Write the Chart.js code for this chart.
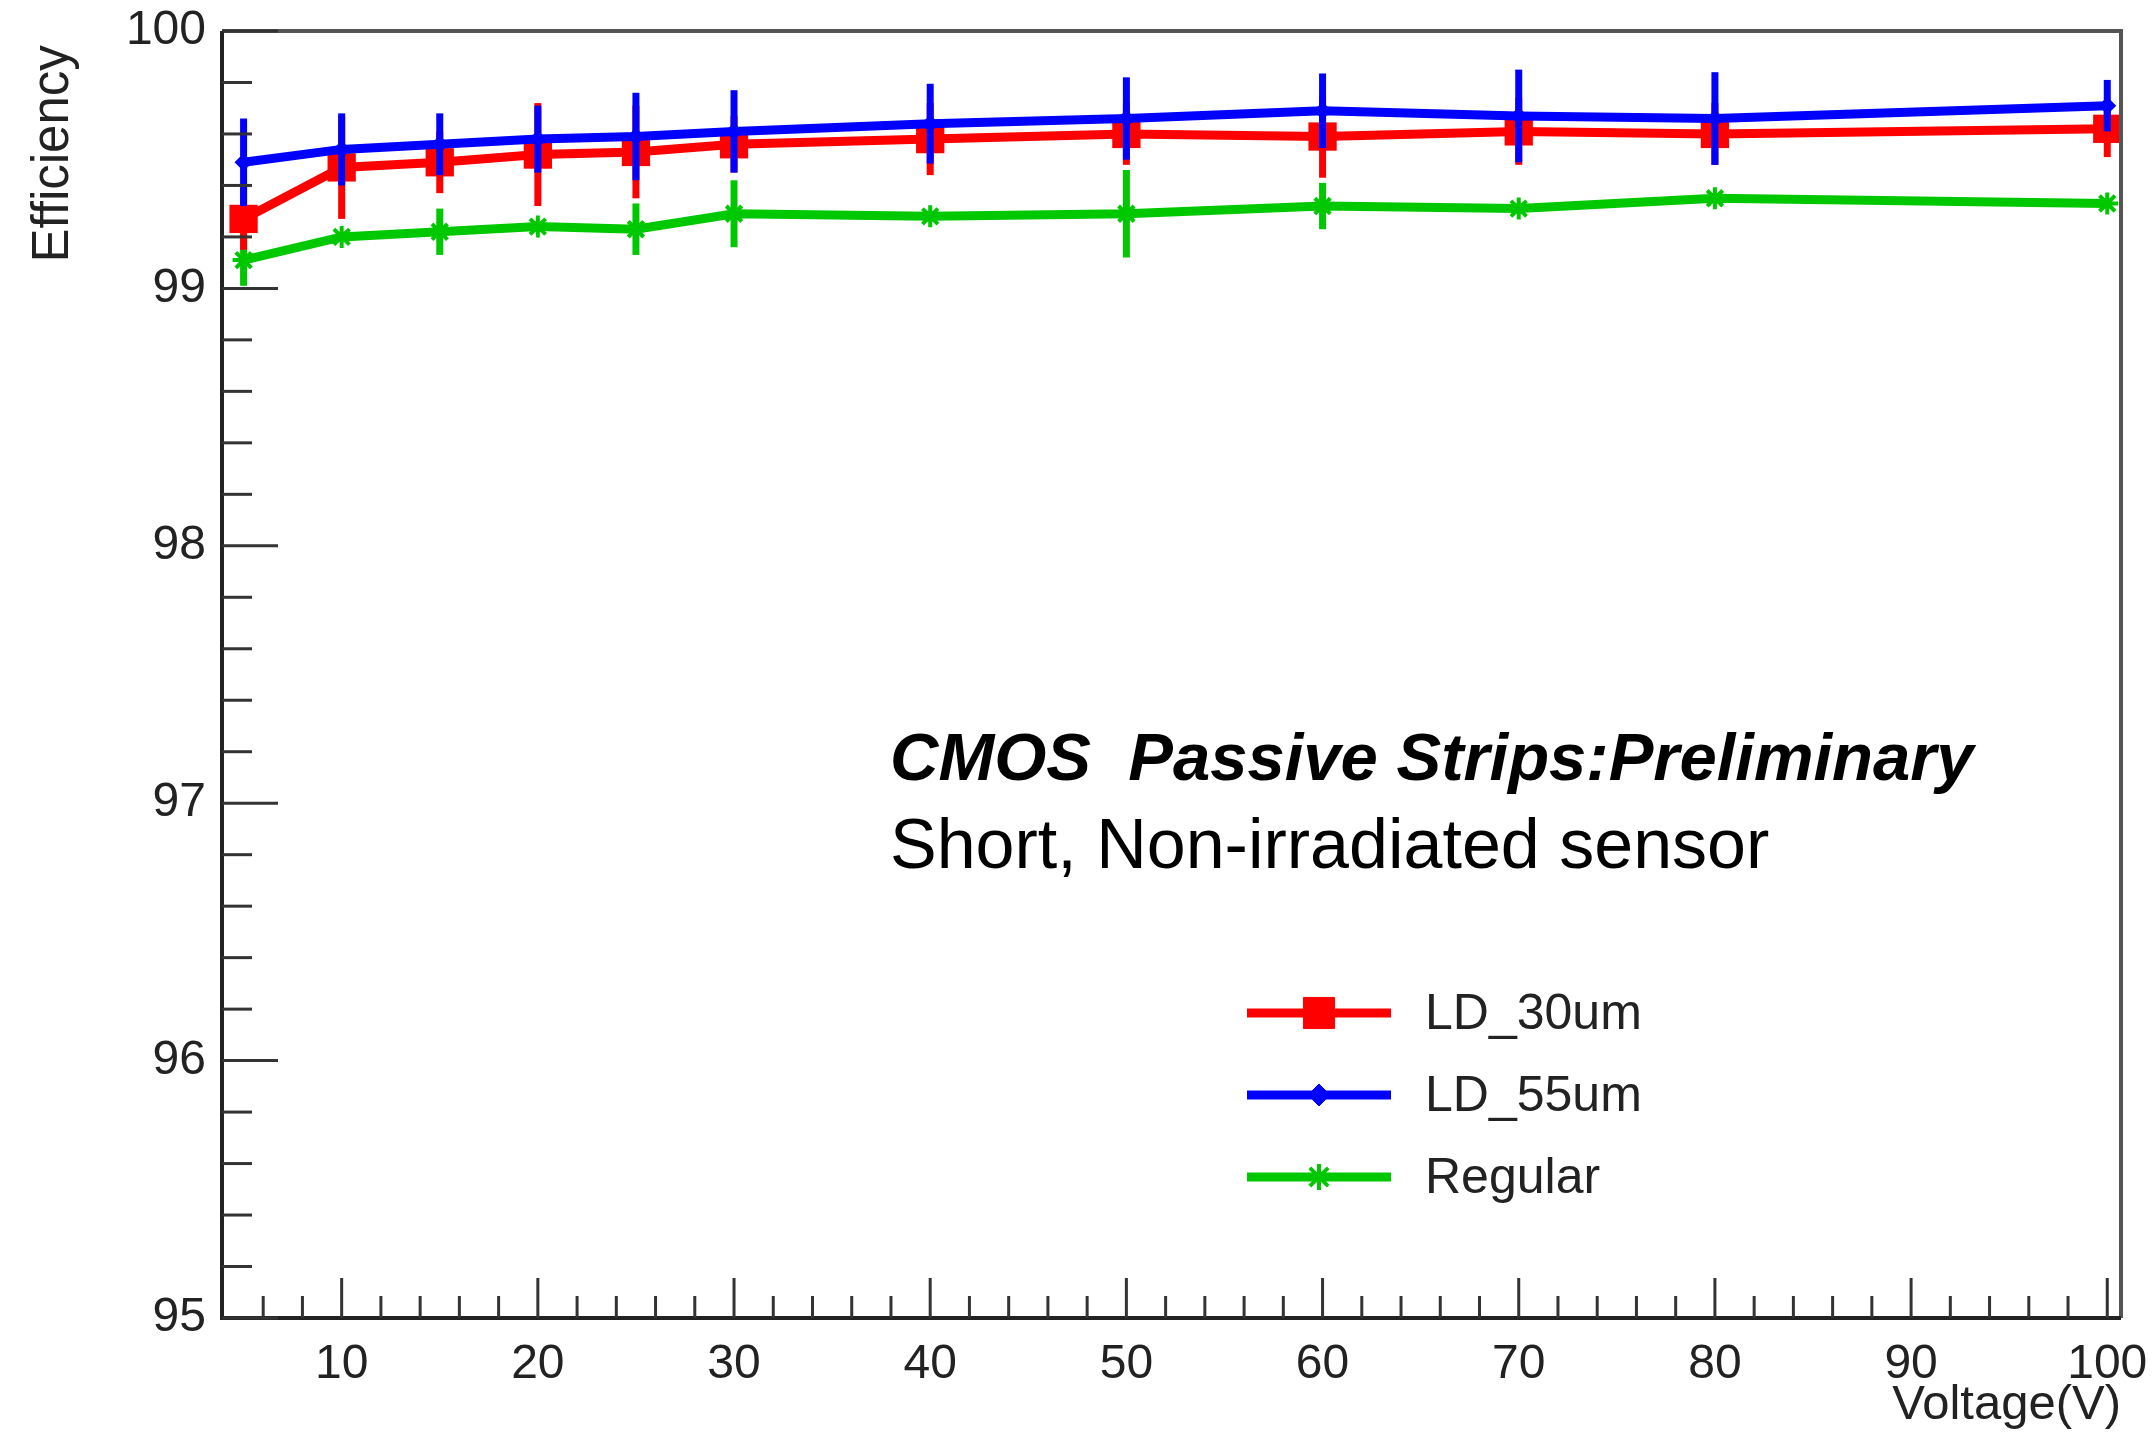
<!DOCTYPE html>
<html>
<head>
<meta charset="utf-8">
<script src="https://cdn.jsdelivr.net/npm/chart.js@4.4.1/dist/chart.umd.min.js"></script>
<style>
  html, body { margin: 0; padding: 0; background: #fff; }
  #wrap { width: 2153px; height: 1435px; }
</style>
</head>
<body>
<div id="wrap"><canvas id="myChart" width="2153" height="1435"></canvas></div>
<script>
// voltage points (V)
var voltages = [5, 10, 15, 20, 25, 30, 40, 50, 60, 70, 80, 100];

// efficiency (%) per sensor type
var ld30 = [99.27, 99.47, 99.49, 99.52, 99.53, 99.56, 99.58, 99.60, 99.59, 99.61, 99.60, 99.62];
var ld55 = [99.49, 99.54, 99.56, 99.58, 99.59, 99.61, 99.64, 99.66, 99.69, 99.67, 99.66, 99.71];
var regular = [99.11, 99.20, 99.22, 99.24, 99.23, 99.29, 99.28, 99.29, 99.32, 99.31, 99.35, 99.33];

// symmetric errors
var ld30Err = [0.12, 0.20, 0.12, 0.20, 0.18, 0.11, 0.14, 0.12, 0.16, 0.13, 0.12, 0.11];
var ld55Err = [0.17, 0.14, 0.12, 0.13, 0.17, 0.16, 0.155, 0.16, 0.145, 0.18, 0.18, 0.10];
var regularErr = [0.10, 0.02, 0.09, 0.02, 0.10, 0.13, 0.02, 0.17, 0.09, 0.02, 0.02, 0.02];

var seriesNames = ["LD_30um", "LD_55um", "Regular"];
var xTickLabels = [10, 20, 30, 40, 50, 60, 70, 80, 90, 100];
var yTickLabels = [95, 96, 97, 98, 99, 100];
var noteLines = ["CMOS  Passive Strips:Preliminary", "Short, Non-irradiated sensor"];

function pts(ys) {
  return voltages.map(function (v, i) { return { x: v, y: ys[i] }; });
}

const RED = "#ff0000";
const BLUE = "#0000ff";
const GREEN = "#00c800";
const AXIS_FONT = "'Liberation Sans', Arial, sans-serif";

// error bars, drawn just before each line so layering follows dataset order
const errorBars = {
  id: "errorBars",
  beforeDatasetDraw(chart, args) {
    const ds = chart.data.datasets[args.index];
    if (!ds.errors) return;
    const xs = chart.scales.x, ys = chart.scales.y;
    const c = chart.ctx;
    c.save();
    c.strokeStyle = ds.borderColor;
    c.lineWidth = 7;
    ds.data.forEach(function (p, i) {
      const px = xs.getPixelForValue(p.x);
      c.beginPath();
      c.moveTo(px, ys.getPixelForValue(p.y + ds.errors[i]));
      c.lineTo(px, ys.getPixelForValue(p.y - ds.errors[i]));
      c.stroke();
    });
    c.restore();
  },
};

// ROOT style frame with inward ticks
const frame = {
  id: "frame",
  afterDatasetsDraw(chart) {
    const a = chart.chartArea, c = chart.ctx;
    const xs = chart.scales.x, ys = chart.scales.y;
    c.save();
    c.strokeStyle = "#555";
    c.lineWidth = 4;
    c.beginPath();
    c.moveTo(a.left, a.top); c.lineTo(a.right, a.top); c.lineTo(a.right, a.bottom);
    c.stroke();
    c.strokeStyle = "#222";
    c.lineWidth = 4;
    c.beginPath();
    c.moveTo(a.left, a.top); c.lineTo(a.left, a.bottom); c.lineTo(a.right, a.bottom);
    c.stroke();
    c.lineWidth = 3;
    c.strokeStyle = "#333";
    // y ticks every 0.2
    for (let k = 0; k <= 25; k++) {
      const v = 95 + k * 0.2;
      const py = ys.getPixelForValue(v);
      const len = k % 5 === 0 ? 56 : 30;
      c.beginPath(); c.moveTo(a.left, py); c.lineTo(a.left + len, py); c.stroke();
    }
    // x ticks every 2
    for (let v = 6; v <= 100; v += 2) {
      const px = xs.getPixelForValue(v);
      const len = v % 10 === 0 ? 40 : 22;
      c.beginPath(); c.moveTo(px, a.bottom); c.lineTo(px, a.bottom - len); c.stroke();
    }
    c.restore();
  },
};

// legend box inside the frame + note text
const overlay = {
  id: "overlay",
  afterDraw(chart) {
    const c = chart.ctx;
    const order = [0, 1, 2];
    c.save();
    order.forEach(function (di, row) {
      const ds = chart.data.datasets[di];
      const y = 1013 + row * 82;
      c.strokeStyle = ds.borderColor;
      c.fillStyle = ds.borderColor;
      c.lineWidth = 9;
      c.beginPath(); c.moveTo(1247, y); c.lineTo(1391, y); c.stroke();
      c.lineWidth = ds.pointBorderWidth || 1;
      Chart.helpers.drawPoint(c, {
        pointStyle: ds.pointStyle, radius: ds.pointRadius + 2, borderWidth: ds.pointBorderWidth || 1,
      }, 1319, y);
      c.fillStyle = "#222";
      c.font = "50px " + AXIS_FONT;
      c.textBaseline = "middle";
      c.fillText(ds.label, 1425, y + 2);
    });
    c.fillStyle = "#000";
    c.textBaseline = "alphabetic";
    c.font = "italic bold 67px " + AXIS_FONT;
    c.fillText(noteLines[0], 890, 780);
    c.font = "70px " + AXIS_FONT;
    c.fillText(noteLines[1], 890, 868);
    c.restore();
  },
};

var ctx = document.getElementById("myChart").getContext("2d");
var myChart = new Chart(ctx, {
  type: "line",
  data: {
    datasets: [
      {
        label: seriesNames[0], data: pts(ld30), errors: ld30Err, order: 1,
        borderColor: RED, backgroundColor: RED, borderWidth: 9,
        pointStyle: "rect", pointRadius: 20, pointBorderWidth: 0,
      },
      {
        label: seriesNames[1], data: pts(ld55), errors: ld55Err, order: 0,
        borderColor: BLUE, backgroundColor: BLUE, borderWidth: 9,
        pointStyle: "rectRot", pointRadius: 9, pointBorderWidth: 0,
      },
      {
        label: seriesNames[2], data: pts(regular), errors: regularErr, order: 2,
        borderColor: GREEN, backgroundColor: GREEN, borderWidth: 9,
        pointStyle: "star", pointRadius: 11, pointBorderWidth: 4,
      },
    ],
  },
  options: {
    responsive: false,
    devicePixelRatio: 1,
    animation: false,
    layout: { padding: { top: 31, right: 32, left: 0, bottom: 0 } },
    elements: { line: { tension: 0 } },
    plugins: { legend: { display: false }, tooltip: { enabled: false } },
    scales: {
      x: {
        type: "linear",
        min: 3.9,
        max: 100.7,
        grid: { display: false, drawTicks: false },
        border: { display: false },
        ticks: {
          includeBounds: false,
          padding: 18,
          color: "#222",
          font: { family: AXIS_FONT, size: 48 },
          maxRotation: 0,
        },
        afterBuildTicks: function (s) { s.ticks = xTickLabels.map(function (v) { return { value: v }; }); },
        afterFit: function (s) { s.height = 117; s.paddingLeft = 0; s.paddingRight = 0; },
        title: {
          display: true, text: "Voltage(V)", align: "end", color: "#222",
          font: { family: AXIS_FONT, size: 49 }, padding: { top: 0, bottom: 0 },
        },
      },
      y: {
        min: 95,
        max: 100,
        grid: { display: false, drawTicks: false },
        border: { display: false },
        ticks: {
          padding: 16,
          color: "#222",
          font: { family: AXIS_FONT, size: 48 },
        },
        afterBuildTicks: function (s) { s.ticks = yTickLabels.map(function (v) { return { value: v }; }); },
        afterFit: function (s) { s.width = 222; s.paddingTop = 0; s.paddingBottom = 0; },
        title: {
          display: true, text: "Efficiency ", align: "end", color: "#222",
          font: { family: AXIS_FONT, size: 51 }, padding: { top: 23, bottom: 0 },
        },
      },
    },
  },
  plugins: [errorBars, frame, overlay],
});
</script>
</body>
</html>
